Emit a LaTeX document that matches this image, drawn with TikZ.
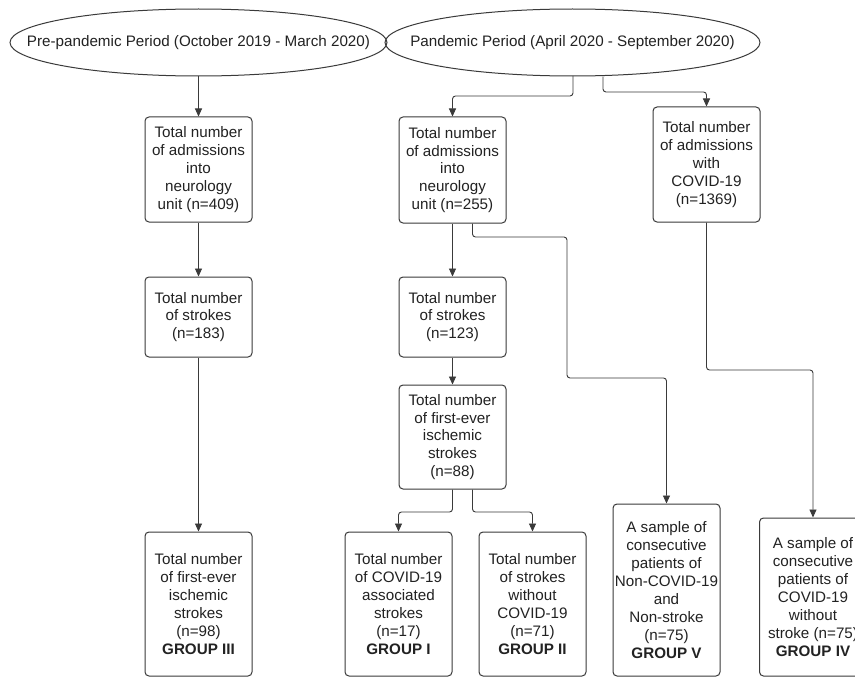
\documentclass[tikz,border=0pt]{standalone}
\usepackage{fontspec}
\setmainfont{Liberation Sans}
\usetikzlibrary{shapes.geometric,arrows.meta,calc}
\definecolor{linec}{HTML}{3A3A3A}
\definecolor{textc}{HTML}{222222}
\begin{document}
\begin{tikzpicture}[x=1pt,y=-1pt,
  box/.style={draw=linec, line width=1pt, rounded corners=4pt, minimum width=107pt, inner sep=0pt, align=center, text=textc, font=\fontsize{15.2}{17.9}\selectfont},
  oval/.style={rectangle, inner sep=0pt, minimum height=67pt, text=textc, font=\fontsize{15.2}{17.9}\selectfont},
  ovalline/.style={draw=linec, line width=1pt},
  arr/.style={draw=linec, line width=0.9pt, rounded corners=3pt, -{Triangle[length=8pt,width=7pt]}}]
\useasboundingbox (0,0) rectangle (855,677);
\clip (0,0) rectangle (855,677);
\fill[white] (0,0) rectangle (855,677);

\node[oval, minimum width=377pt] (e1) at (198.5,42.5) {Pre-pandemic Period (October 2019 - March 2020)};
\node[oval, minimum width=375pt] (e2) at (572.5,42.5) {Pandemic Period (April 2020 - September 2020)};
\draw[ovalline] (e1.center) ellipse [x radius=188.5pt, y radius=33.5pt];
\draw[ovalline] (e2.center) ellipse [x radius=187.5pt, y radius=33.5pt];

\node[box, minimum height=105pt] (A1) at (198.5,169.5) {Total number\\of admissions\\into\\neurology\\unit (n=409)};
\node[box, minimum height=80pt] (A2) at (198.5,317) {Total number\\of strokes\\(n=183)};
\node[box, minimum height=144pt] (A3) at (198.5,604) {Total number\\of first-ever\\ischemic\\strokes\\(n=98)\\\textbf{GROUP III}};

\node[box, minimum height=106pt] (B1) at (452.5,170) {Total number\\of admissions\\into\\neurology\\unit (n=255)};
\node[box, minimum height=80pt] (B2) at (452.5,317) {Total number\\of strokes\\(n=123)};
\node[box, minimum height=104pt] (B3) at (452.5,437) {Total number\\of first-ever\\ischemic\\strokes\\(n=88)};
\node[box, minimum height=144pt] (B4) at (398.5,604) {Total number\\of COVID-19\\associated\\strokes\\(n=17)\\\textbf{GROUP I}};
\node[box, minimum height=144pt] (B5) at (532.5,604) {Total number\\of strokes\\without\\COVID-19\\(n=71)\\\textbf{GROUP II}};

\node[box, minimum height=115pt] (C1) at (706.5,164.5) {Total number\\of admissions\\with\\COVID-19\\(n=1369)};
\node[box, minimum height=172pt] (C2) at (666.5,590) {A sample of\\consecutive\\patients of\\Non-COVID-19\\and\\Non-stroke\\(n=75)\\\textbf{GROUP V}};
\node[box, minimum height=158pt] (C3) at (813,597) {A sample of\\consecutive\\patients of\\COVID-19\\without\\stroke (n=75)\\\textbf{GROUP IV}};

\draw[arr] (e1.south) -- (A1.north);
\draw[arr] (A1.south) -- (A2.north);
\draw[arr] (A2.south) -- (A3.north);

\coordinate (e2a) at (573,76);
\coordinate (e2b) at ($(e2.south)+(30.5,0.5)$);
\draw[arr] (e2a) -- (573,96) -| (B1.north);
\draw[arr] (e2b) -- (603,92) -| (C1.north);

\draw[arr] (B1.south) -- (B2.north);
\draw[arr] (B2.south) -- (B3.north);
\coordinate (b1r) at ($(B1.south)+(20,0)$);
\draw[arr] (b1r) -- (472.5,237) -- (567,237) -- (567,378) -| (C2.north);
\draw[arr] (C1.south) -- (706.5,370) -| (C3.north);

\coordinate (b3r) at ($(B3.south)+(20,0)$);
\draw[arr] (B3.south) -- (452.5,512) -| (B4.north);
\draw[arr] (b3r) -- (472.5,512) -| (B5.north);
\end{tikzpicture}
\end{document}
